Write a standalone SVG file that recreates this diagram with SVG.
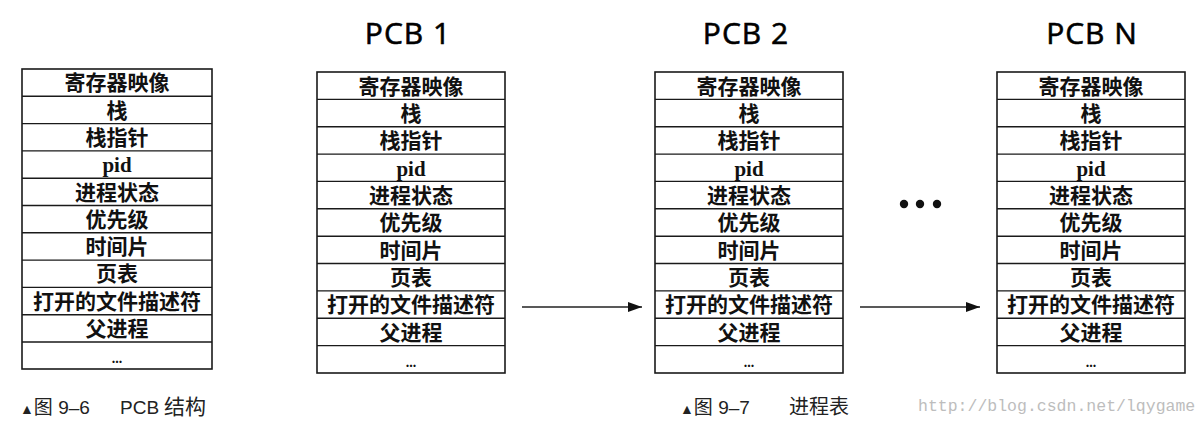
<svg xmlns="http://www.w3.org/2000/svg" width="1204" height="423" viewBox="0 0 1204 423">
<style>
.box{fill:#fff;stroke:#1a1a1a;stroke-width:1.6}
.sep{stroke:#1a1a1a;stroke-width:1.4}
.cell{font-family:"Liberation Serif","Noto Sans CJK SC",serif;font-weight:bold;font-size:21px;fill:#111;text-anchor:middle}
.dots{font-family:"Liberation Serif",serif;font-weight:bold;font-size:14px;fill:#111;text-anchor:middle}
.title{font-family:"Open Sans","Liberation Sans",sans-serif;font-weight:normal;font-size:30px;fill:#000;stroke:#000;stroke-width:0.6;text-anchor:middle;letter-spacing:1px}
.cap{font-family:"Liberation Sans","Noto Sans CJK SC",sans-serif;font-size:19px;fill:#222}
.wm{font-family:"Liberation Mono",monospace;font-size:16.5px;fill:#bdbdbd}
.conn{stroke:#222;stroke-width:1.6;fill:none}
</style>
<defs>
<marker id="ah" viewBox="0 0 14 10" refX="14" refY="5" markerWidth="14" markerHeight="10" markerUnits="userSpaceOnUse" orient="auto">
<path d="M0,0 L14,5 L0,10 z" fill="#111"/>
</marker>
</defs>
<rect width="1204" height="423" fill="#fff"/>

<g id="pcb-structure" transform="translate(22,69)">
<rect class="box" x="0" y="0" width="190" height="300"/>
<path class="sep" d="M0,27.3H190M0,54.6H190M0,81.9H190M0,109.2H190M0,136.5H190M0,163.8H190M0,191.1H190M0,218.4H190M0,245.7H190M0,273H190"/>
<text class="cell" x="95" y="21.3">寄存器映像</text>
<text class="cell" x="95" y="48.6">栈</text>
<text class="cell" x="95" y="75.9">栈指针</text>
<text class="cell" x="95" y="103.2">pid</text>
<text class="cell" x="95" y="130.5">进程状态</text>
<text class="cell" x="95" y="157.8">优先级</text>
<text class="cell" x="95" y="185.1">时间片</text>
<text class="cell" x="95" y="212.4">页表</text>
<text class="cell" x="95" y="239.7">打开的文件描述符</text>
<text class="cell" x="95" y="267">父进程</text>
<text class="dots" x="95" y="294">...</text>
</g>

<g id="pcb1">
<text class="title" x="408" y="44">PCB 1</text>
<g transform="translate(317,72)">
<rect class="box" x="0" y="0" width="188" height="301"/>
<path class="sep" d="M0,27.4H188M0,54.7H188M0,82.1H188M0,109.4H188M0,136.8H188M0,164.2H188M0,191.5H188M0,218.9H188M0,246.2H188M0,273.6H188"/>
<text class="cell" x="94" y="21.5">寄存器映像</text>
<text class="cell" x="94" y="48.9">栈</text>
<text class="cell" x="94" y="76.2">栈指针</text>
<text class="cell" x="94" y="103.6">pid</text>
<text class="cell" x="94" y="130.9">进程状态</text>
<text class="cell" x="94" y="158.3">优先级</text>
<text class="cell" x="94" y="185.7">时间片</text>
<text class="cell" x="94" y="213">页表</text>
<text class="cell" x="94" y="240.4">打开的文件描述符</text>
<text class="cell" x="94" y="267.7">父进程</text>
<text class="dots" x="94" y="295">...</text>
</g>
</g>

<g id="pcb2">
<text class="title" x="746" y="44">PCB 2</text>
<g transform="translate(655,72)">
<rect class="box" x="0" y="0" width="188" height="301"/>
<path class="sep" d="M0,27.4H188M0,54.7H188M0,82.1H188M0,109.4H188M0,136.8H188M0,164.2H188M0,191.5H188M0,218.9H188M0,246.2H188M0,273.6H188"/>
<text class="cell" x="94" y="21.5">寄存器映像</text>
<text class="cell" x="94" y="48.9">栈</text>
<text class="cell" x="94" y="76.2">栈指针</text>
<text class="cell" x="94" y="103.6">pid</text>
<text class="cell" x="94" y="130.9">进程状态</text>
<text class="cell" x="94" y="158.3">优先级</text>
<text class="cell" x="94" y="185.7">时间片</text>
<text class="cell" x="94" y="213">页表</text>
<text class="cell" x="94" y="240.4">打开的文件描述符</text>
<text class="cell" x="94" y="267.7">父进程</text>
<text class="dots" x="94" y="295">...</text>
</g>
</g>

<g id="pcbn">
<text class="title" x="1092" y="44">PCB N</text>
<g transform="translate(997,72)">
<rect class="box" x="0" y="0" width="188" height="301"/>
<path class="sep" d="M0,27.4H188M0,54.7H188M0,82.1H188M0,109.4H188M0,136.8H188M0,164.2H188M0,191.5H188M0,218.9H188M0,246.2H188M0,273.6H188"/>
<text class="cell" x="94" y="21.5">寄存器映像</text>
<text class="cell" x="94" y="48.9">栈</text>
<text class="cell" x="94" y="76.2">栈指针</text>
<text class="cell" x="94" y="103.6">pid</text>
<text class="cell" x="94" y="130.9">进程状态</text>
<text class="cell" x="94" y="158.3">优先级</text>
<text class="cell" x="94" y="185.7">时间片</text>
<text class="cell" x="94" y="213">页表</text>
<text class="cell" x="94" y="240.4">打开的文件描述符</text>
<text class="cell" x="94" y="267.7">父进程</text>
<text class="dots" x="94" y="295">...</text>
</g>
</g>

<g id="ellipsis">
<circle cx="904" cy="204" r="4.2" fill="#111"/>
<circle cx="920" cy="204" r="4.2" fill="#111"/>
<circle cx="937" cy="204" r="4.2" fill="#111"/>
</g>

<g id="connectors">
<line class="conn" x1="522" y1="307" x2="642" y2="307" marker-end="url(#ah)"/>
<line class="conn" x1="860" y1="307" x2="980" y2="307" marker-end="url(#ah)"/>
</g>

<g id="captions">
<text class="cap" x="20" y="414"><tspan font-size="14">▲</tspan>图 9–6<tspan x="120">PCB</tspan><tspan x="164" font-size="21">结构</tspan></text>
<text class="cap" x="680" y="414"><tspan font-size="14">▲</tspan>图 9–7<tspan x="789" font-size="20">进程表</tspan></text>
<text class="wm" x="918" y="411">http://blog.csdn.net/lqygame</text>
</g>
</svg>
